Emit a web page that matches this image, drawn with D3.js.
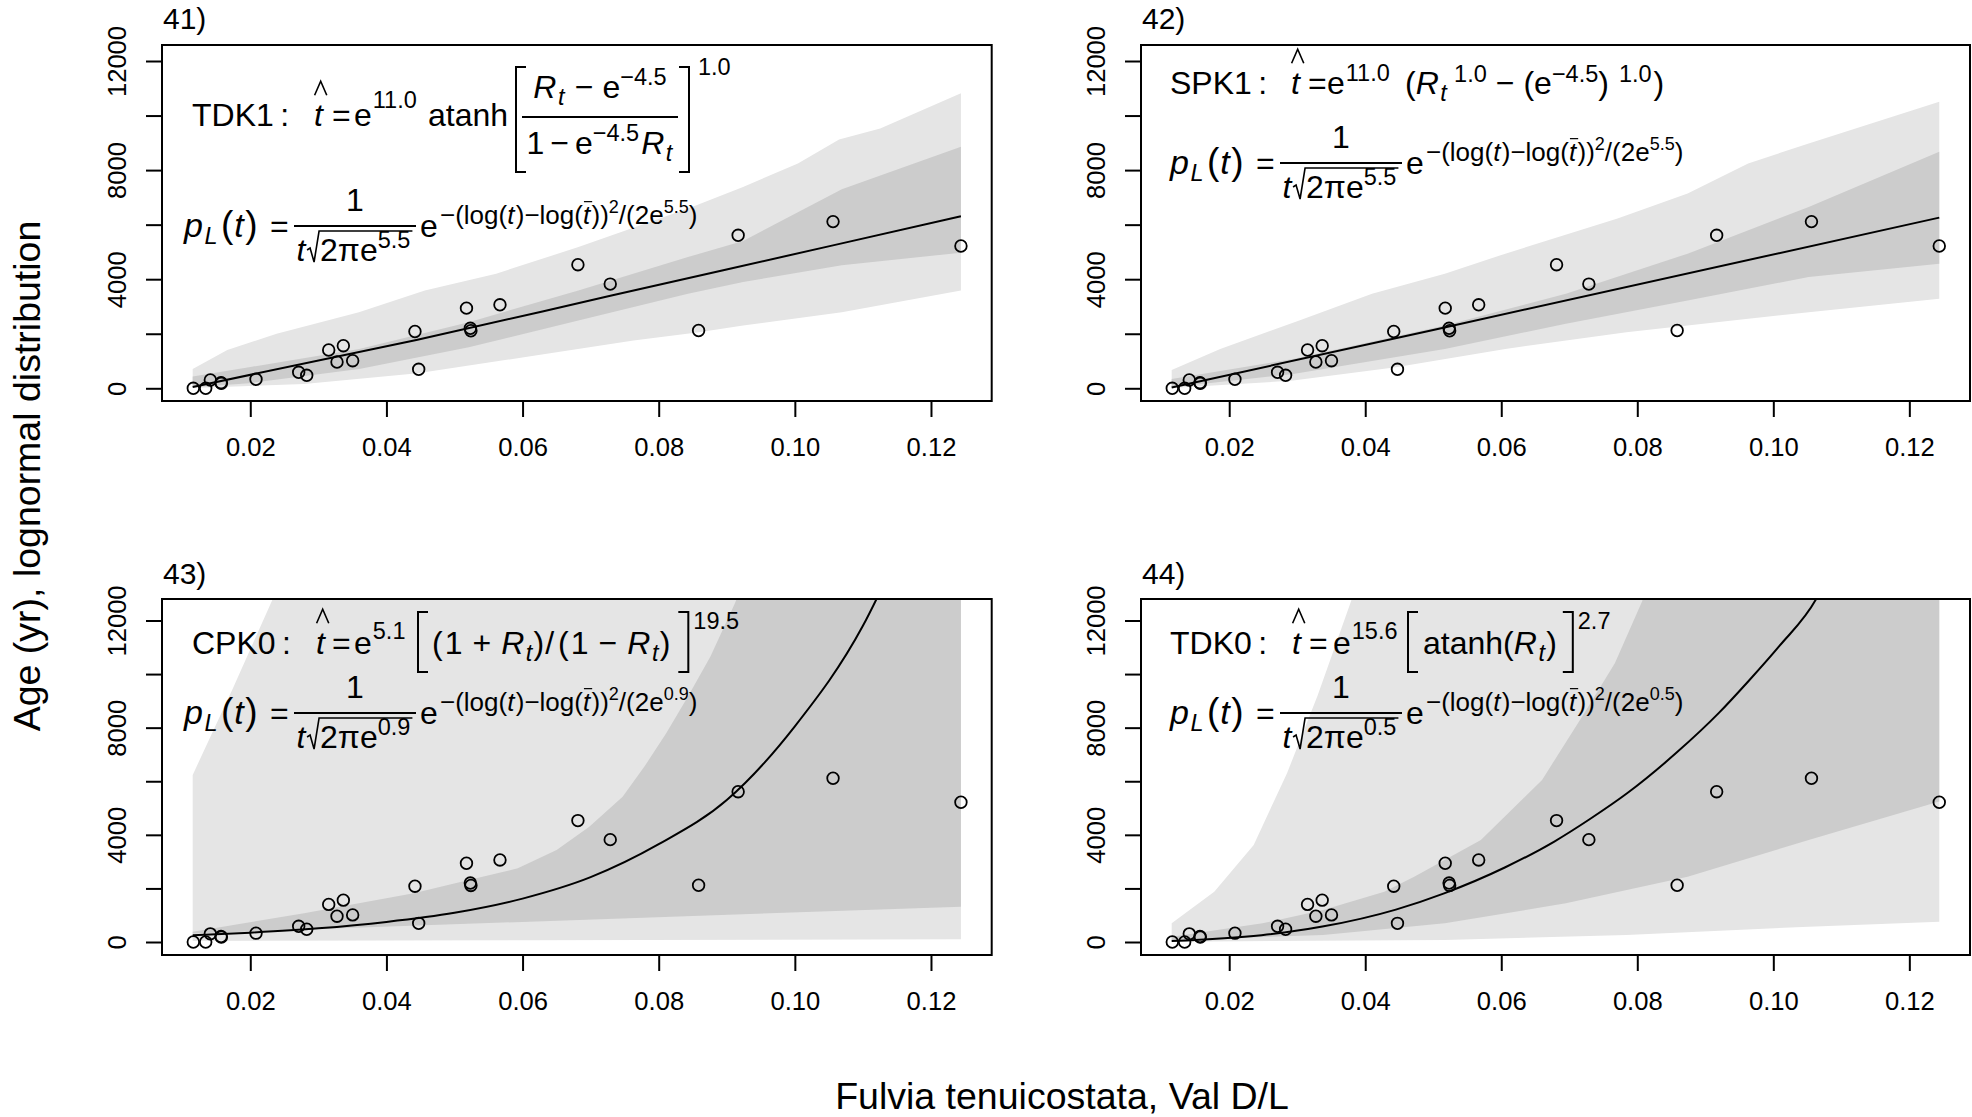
<!DOCTYPE html>
<html><head><meta charset="utf-8">
<script src="https://cdn.jsdelivr.net/npm/d3@7"></script>
<style>
body{margin:0;background:#fff}
text{font-family:"Liberation Sans",Arial,Helvetica,sans-serif;fill:#000}
</style>
</head><body>
<svg id="chart" width="1972" height="1117"></svg>
<script>
// ---------------- data ----------------
const dlValues  = [0.01163,0.01345,0.01413,0.01570,0.01575,0.02084,0.02711,0.02829,0.03152,0.03274,0.03367,0.03504,0.04419,0.04474,0.05176,0.05233,0.05241,0.05668,0.06813,0.07288,0.08586,0.09167,0.10561,0.1244];
const ageValues = [0,0,304,205,183,330,586,476,1404,964,1562,1012,2082,697,2939,2200,2110,3062,4532,3821,2119,5609,6111,5217];

const xTicks = [0.02,0.04,0.06,0.08,0.10,0.12];
const yTicks = [0,2000,4000,6000,8000,10000,12000];
const yTickLabels = ['0','','4000','','8000','','12000'];
const panelLabels = ['41)','42)','43)','44)'];
const xTitle = 'Fulvia tenuicostata, Val D/L';
const yTitle = 'Age (yr), lognormal distribution';

// panel 41 (TDK1)
const tdk1Fit     = [[0.01154,50],[0.0444,1771],[0.0729,3390],[0.1056,5240],[0.1244,6307]];
const tdk1OuterHi = [[0.01154,710],[0.01662,1408],[0.02387,1996],[0.03596,2792],[0.04564,3588],[0.05612,4201],[0.06821,5180],[0.08433,6589],[0.09239,7385],[0.10045,8242],[0.1065,9124],[0.11254,9528],[0.1244,10814]];
const tdk1OuterLo = [[0.01154,12],[0.0279,159],[0.0446,551],[0.0602,1139],[0.0763,1751],[0.0859,2058],[0.0924,2302],[0.1069,2792],[0.1244,3588]];
const tdk1InnerHi = [[0.01154,429],[0.0198,772],[0.0360,1445],[0.0521,2425],[0.0682,3588],[0.0843,4813],[0.0924,5400],[0.1069,7300],[0.1244,8855]];
const tdk1InnerLo = [[0.01154,37],[0.0198,184],[0.0360,710],[0.0521,1506],[0.0682,2486],[0.0843,3466],[0.0924,3895],[0.1069,4507],[0.1244,4972]];
// panel 42 (SPK1)
const spk1Fit     = [[0.01154,30],[0.05,2140],[0.1244,6258]];
const spk1OuterHi = [[0.01154,674],[0.01868,1445],[0.0303,2486],[0.0410,3466],[0.0517,4201],[0.0606,4936],[0.0771,6222],[0.0874,7140],[0.0963,8242],[0.1052,8977],[0.1244,10508]];
const spk1OuterLo = [[0.01154,12],[0.0294,282],[0.0445,772],[0.0606,1445],[0.0784,2058],[0.1052,2792],[0.1244,3282]];
const spk1InnerHi = [[0.01154,343],[0.0294,1078],[0.0517,2302],[0.0695,3466],[0.0874,4936],[0.1052,6650],[0.1244,8671]];
const spk1InnerLo = [[0.01154,37],[0.0294,527],[0.0517,1445],[0.0695,2364],[0.0874,3221],[0.1052,4078],[0.1244,4568]];
// panel 43 (CPK0)
const cpk0Fit     = [[0.01154,250],[0.02,350],[0.03,510],[0.04,750],[0.05,1090],[0.06,1620],[0.07,2420],[0.08,3650],[0.09,5300],[0.10,8050],[0.11,11800],[0.115,14400]];
const cpk0OuterHi = [[0.01154,6235],[0.0175,9500],[0.0233,12800],[0.026,14500],[0.1244,14500]];
const cpk0OuterLo = [[0.01154,40],[0.06,70],[0.1244,100]];
const cpk0InnerHi = [[0.01154,386],[0.0279,1070],[0.0440,1817],[0.0521,2315],[0.0593,2751],[0.0650,3435],[0.0698,4306],[0.0747,5426],[0.0779,6547],[0.0811,7791],[0.0843,9160],[0.0876,10654],[0.0912,12645],[0.094,14500],[0.1244,14500]];
const cpk0InnerLo = [[0.01154,320],[0.1244,1320]];
// panel 44 (TDK0)
const tdk0Fit     = [[0.01154,35],[0.02475,250],[0.0337,575],[0.0445,1210],[0.0516,1817],[0.0606,2790],[0.0678,3750],[0.0731,4600],[0.0785,5550],[0.0857,7050],[0.0920,8550],[0.0964,9750],[0.1009,11050],[0.1063,12800],[0.109,14200]];
const tdk0OuterHi = [[0.01154,697],[0.0178,1879],[0.0236,3622],[0.0285,6300],[0.0330,9200],[0.0379,12707],[0.040,14500],[0.1244,14500]];
const tdk0OuterLo = [[0.01154,12],[0.0517,75],[0.0784,261],[0.1052,572],[0.1244,759]];
const tdk0InnerHi = [[0.01154,199],[0.0249,697],[0.0338,1195],[0.0428,1879],[0.0472,2439],[0.0570,3809],[0.0660,6049],[0.0722,8538],[0.0767,10405],[0.0807,12707],[0.083,14500],[0.1244,14500]];
const tdk0InnerLo = [[0.01154,75],[0.0338,261],[0.0517,697],[0.0695,1444],[0.0874,2439],[0.1052,3809],[0.1244,5240]];

// ---------------- layout ----------------
const svg = d3.select('#chart');
const F = 32, S2 = 23.5;
const LIGHT = '#e5e5e5', DARK = '#cccccc';
const TICKFONT = 25.6;

const panels = [
  {x0:162, x1:991.7, y0:45, y1:401, yDom:[-466,12587], fit:tdk1Fit, oHi:tdk1OuterHi, oLo:tdk1OuterLo, iHi:tdk1InnerHi, iLo:tdk1InnerLo, label:panelLabels[0], lx:163, ly:29},
  {x0:1141, x1:1970, y0:45, y1:401, yDom:[-466,12587], fit:spk1Fit, oHi:spk1OuterHi, oLo:spk1OuterLo, iHi:spk1InnerHi, iLo:spk1InnerLo, label:panelLabels[1], lx:1142, ly:29},
  {x0:162, x1:991.7, y0:599, y1:955, yDom:[-485,12802], fit:cpk0Fit, oHi:cpk0OuterHi, oLo:cpk0OuterLo, iHi:cpk0InnerHi, iLo:cpk0InnerLo, label:panelLabels[2], lx:163, ly:584},
  {x0:1141, x1:1970, y0:599, y1:955, yDom:[-485,12802], fit:tdk0Fit, oHi:tdk0OuterHi, oLo:tdk0OuterLo, iHi:tdk0InnerHi, iLo:tdk0InnerLo, label:panelLabels[3], lx:1142, ly:584}
];

panels.forEach((p, k) => {
  const x = d3.scaleLinear().domain([0.00703, 0.12892]).range([p.x0, p.x1]);
  const y = d3.scaleLinear().domain(p.yDom).range([p.y1, p.y0]);
  const g = svg.append('g');
  const cid = 'clip' + k;
  g.append('clipPath').attr('id', cid).append('rect')
    .attr('x', p.x0).attr('y', p.y0).attr('width', p.x1 - p.x0).attr('height', p.y1 - p.y0);
  const pg = g.append('g').attr('clip-path', `url(#${cid})`);
  const area = (hi, lo) => d3.line().x(d => x(d[0])).y(d => y(d[1]))(hi.concat(lo.slice().reverse())) + 'Z';
  pg.append('path').attr('d', area(p.oHi, p.oLo)).attr('fill', LIGHT);
  pg.append('path').attr('d', area(p.iHi, p.iLo)).attr('fill', DARK);
  pg.append('path').attr('d', d3.line().x(d => x(d[0])).y(d => y(d[1])).curve(d3.curveMonotoneX)(p.fit))
    .attr('fill', 'none').attr('stroke', '#000').attr('stroke-width', 2);
  pg.selectAll('circle').data(dlValues).join('circle')
    .attr('cx', d => x(d)).attr('cy', (d, i) => y(ageValues[i])).attr('r', 5.8)
    .attr('fill', 'none').attr('stroke', '#000').attr('stroke-width', 1.8);
  g.append('rect').attr('x', p.x0).attr('y', p.y0).attr('width', p.x1 - p.x0).attr('height', p.y1 - p.y0)
    .attr('fill', 'none').attr('stroke', '#000').attr('stroke-width', 2);
  const xa = g.append('g').attr('transform', `translate(0,${p.y1})`)
    .call(d3.axisBottom(x).tickValues(xTicks).tickFormat(d3.format('.2f')).tickSize(16).tickPadding(21));
  xa.select('.domain').remove();
  xa.selectAll('line').attr('stroke-width', 2);
  xa.selectAll('text').attr('font-size', TICKFONT).attr('font-family', null);
  const ya = g.append('g').attr('transform', `translate(${p.x0},0)`)
    .call(d3.axisLeft(y).tickValues(yTicks).tickFormat((d, i) => yTickLabels[i]).tickSize(16));
  ya.select('.domain').remove();
  ya.selectAll('line').attr('stroke-width', 2);
  ya.selectAll('text').attr('font-size', TICKFONT).attr('font-family', null)
    .attr('transform', 'rotate(-90)').attr('x', 0).attr('y', -36).attr('dy', null)
    .attr('text-anchor', 'middle');
  g.append('text').attr('x', p.lx).attr('y', p.ly).attr('font-size', 30).text(p.label);
  p.g = g;
});

svg.append('text').attr('x', 1062).attr('y', 1109).attr('text-anchor', 'middle').attr('font-size', 37.5).text(xTitle);
svg.append('text').attr('transform', 'translate(40,476) rotate(-90)').attr('text-anchor', 'middle').attr('font-size', 37.5).text(yTitle);

// ---------------- math layout helpers ----------------
function flow(g, x0, y, items) {
  let cx = x0;
  for (const it of items) {
    if (it.at != null) cx = it.at;
    if (it.sp != null) { cx += it.sp; continue; }
    if (it.br) {
      const w = 11;
      const d = it.br === '['
        ? `M${cx + w},${y + it.top}H${cx + 1}V${y + it.bot}H${cx + w}`
        : `M${cx},${y + it.top}H${cx + w - 1}V${y + it.bot}H${cx}`;
      g.append('path').attr('d', d).attr('fill', 'none').attr('stroke', '#000').attr('stroke-width', 2);
      cx += w + 3; continue;
    }
    if (it.sqrt) {
      const inner = flow(g, cx + 13, y, it.sqrt);
      const top = y + it.top;
      g.append('path').attr('d', `M${cx},${y - 11}L${cx + 3},${y - 13}L${cx + 7},${y + 1}L${cx + 12},${top}H${inner + 2}`)
        .attr('fill', 'none').attr('stroke', '#000').attr('stroke-width', 1.6);
      cx = inner + 3; continue;
    }
    const s = it.s || F;
    const t = g.append('text').attr('x', cx).attr('y', y + (it.dy || 0)).attr('font-size', s).text(it.t);
    if (it.i) t.attr('font-style', 'italic');
    const w = t.node().getComputedTextLength();
    if (it.hat) {
      const c = cx + w / 2 + s * 0.07, yy = y + (it.dy || 0);
      g.append('path').attr('d', `M${c - s * 0.19},${yy - s * 0.96}L${c},${yy - s * 1.4}L${c + s * 0.19},${yy - s * 0.96}`)
        .attr('fill', 'none').attr('stroke', '#000').attr('stroke-width', 1.6);
    }
    if (it.bar) {
      const yy = y + (it.dy || 0) - s * 0.86;
      g.append('line').attr('x1', cx + 1).attr('x2', cx + w + 2).attr('y1', yy).attr('y2', yy)
        .attr('stroke', '#000').attr('stroke-width', 1.2);
    }
    cx += w + (it.i ? s * 0.05 : 0);
  }
  return cx;
}
function centered(g, xa, xb, y, items) {
  const h = g.append('g');
  const w = flow(h, 0, y, items);
  h.attr('transform', `translate(${(xa + xb - w) / 2},0)`);
}
function hline(g, xa, xb, y) {
  g.append('line').attr('x1', xa).attr('x2', xb).attr('y1', y).attr('y2', y).attr('stroke', '#000').attr('stroke-width', 2);
}
const M = '\u2212';
const L2 = 26, L3 = 18;
function lognormal(g, xL, yB, s2) {
  flow(g, xL, yB, [
    {t:'p', i:1, s:34}, {t:'L', i:1, s:S2, dy:7}, {sp:2}, {t:'(', s:37}, {sp:1}, {t:'t', i:1, s:34}, {t:')', s:37},
    {at:xL + 86, t:'='}
  ]);
  const b0 = xL + 110, b1 = xL + 232;
  hline(g, b0, b1, yB - 11);
  centered(g, b0, b1, yB - 26, [{t:'1'}]);
  centered(g, b0, b1, yB + 24, [{t:'t', i:1}, {sqrt:[{t:'2\u03C0e'}, {t:s2, s:S2, dy:-13}], top:-30}]);
  flow(g, xL + 236, yB, [{t:'e'}]);
  flow(g, xL + 256, yB - 13, [
    {t:M + '(log(', s:L2}, {t:'t', i:1, s:L2}, {t:')' + M + 'log(', s:L2},
    {t:'t', i:1, s:L2, bar:1}, {t:'))', s:L2}, {t:'2', s:L3, dy:-11},
    {t:'/(2e', s:L2}, {t:s2, s:L3, dy:-11}, {t:')', s:L2}
  ]);
}

// panel 41 : TDK1
(function () {
  const g = panels[0].g, y = 126;
  flow(g, 192, y, [{t:'TDK1\u2009:'}]);
  flow(g, 314, y, [
    {t:'t', i:1, hat:1}, {at:332, t:'='}, {at:354, t:'e'}, {sp:1}, {t:'11.0', s:S2, dy:-18}, {at:428, t:'atanh'},
    {at:515, br:'[', top:-59, bot:46}, {at:679, br:']', top:-59, bot:46}, {at:698, t:'1.0', s:S2, dy:-51}
  ]);
  hline(g, 522, 678, y - 9);
  centered(g, 522, 678, y - 28, [{t:'R', i:1}, {t:'t', i:1, s:S2, dy:7}, {sp:9}, {t:M}, {sp:9}, {t:'e'}, {t:M + '4.5', s:S2, dy:-13}]);
  centered(g, 522, 678, y + 28, [{t:'1'}, {sp:6}, {t:M}, {sp:6}, {t:'e'}, {t:M + '4.5', s:S2, dy:-13}, {sp:2}, {t:'R', i:1}, {t:'t', i:1, s:S2, dy:7}]);
  lognormal(g, 184, 237, '5.5');
})();
// panel 42 : SPK1
(function () {
  const g = panels[1].g, y = 94;
  flow(g, 1170, y, [{t:'SPK1\u2009:'}]);
  flow(g, 1291, y, [
    {t:'t', i:1, hat:1}, {at:1308, t:'='}, {at:1327, t:'e'}, {sp:1}, {t:'11.0', s:S2, dy:-13},
    {at:1405, t:'('}, {t:'R', i:1}, {t:'t', i:1, s:S2, dy:7}, {sp:6}, {t:'1.0', s:S2, dy:-12},
    {sp:9}, {t:M}, {sp:9}, {t:'('}, {t:'e'}, {t:M + '4.5', s:S2, dy:-12}, {t:')'},
    {sp:10}, {t:'1.0', s:S2, dy:-12}, {sp:2}, {t:')'}
  ]);
  lognormal(g, 1170, 174, '5.5');
})();
// panel 43 : CPK0
(function () {
  const g = panels[2].g, y = 654;
  flow(g, 192, y, [{t:'CPK0\u2009:'}]);
  flow(g, 316, y, [
    {t:'t', i:1, hat:1}, {at:332, t:'='}, {at:354, t:'e'}, {sp:1}, {t:'5.1', s:S2, dy:-15},
    {at:417, br:'[', top:-42, bot:18}, {sp:1},
    {t:'('}, {sp:2}, {t:'1'}, {sp:10}, {t:'+'}, {sp:10}, {t:'R', i:1}, {t:'t', i:1, s:S2, dy:7}, {t:')'},
    {sp:1}, {t:'/'}, {sp:4}, {t:'('}, {sp:2}, {t:'1'}, {sp:10}, {t:M}, {sp:10}, {t:'R', i:1}, {t:'t', i:1, s:S2, dy:7}, {t:')'},
    {sp:8}, {br:']', top:-42, bot:18}, {sp:1}, {t:'19.5', s:S2, dy:-25}
  ]);
  lognormal(g, 184, 724, '0.9');
})();
// panel 44 : TDK0
(function () {
  const g = panels[3].g, y = 654;
  flow(g, 1170, y, [{t:'TDK0\u2009:'}]);
  flow(g, 1292, y, [
    {t:'t', i:1, hat:1}, {at:1309, t:'='}, {at:1333, t:'e'}, {sp:1}, {t:'15.6', s:S2, dy:-15},
    {at:1407, br:'[', top:-42, bot:18}, {at:1423, t:'atanh'}, {t:'('}, {t:'R', i:1}, {t:'t', i:1, s:S2, dy:7}, {t:')'},
    {sp:6}, {br:']', top:-42, bot:18}, {sp:1}, {t:'2.7', s:S2, dy:-25}
  ]);
  lognormal(g, 1170, 724, '0.5');
})();
</script>
</body></html>
